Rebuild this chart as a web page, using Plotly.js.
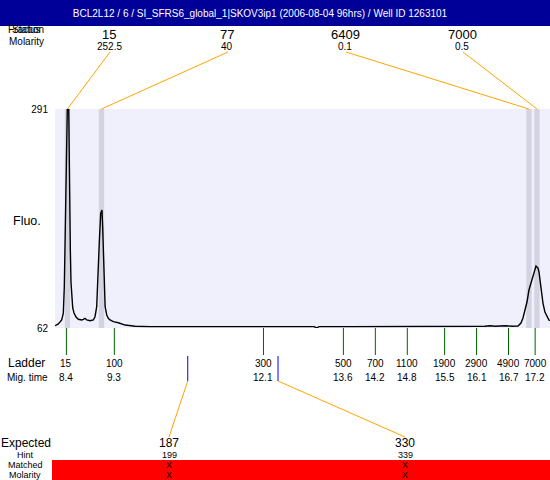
<!DOCTYPE html>
<html>
<head>
<meta charset="utf-8">
<script src="https://cdn.plot.ly/plotly-3.0.1.min.js"></script>
<style>html,body{margin:0;padding:0;background:#fff;}#chart{width:550px;height:480px;}</style>
</head>
<body>
<div id="chart"></div>
<script>
// ---------------- data ----------------
const chartTitle = 'BCL2L12 / 6 / SI_SFRS6_global_1|SKOV3ip1 (2006-08-04 96hrs) / Well ID 1263101';

// electropherogram signal: migration time (s) and fluorescence
const sigTime = [8.187, 8.249, 8.312, 8.342, 8.361, 8.374, 8.387, 8.399, 8.417, 8.444, 8.449, 8.463, 8.474, 8.487, 8.500, 8.519, 8.543, 8.581, 8.624, 8.688, 8.718, 8.750, 8.782, 8.844, 8.906, 8.937, 8.969, 8.998, 9.017, 9.044, 9.068, 9.081, 9.093, 9.111, 9.127, 9.157, 9.187, 9.219, 9.281, 9.375, 9.501, 9.688, 9.970, 10.910, 11.849, 12.785, 13.049, 13.099, 13.142, 13.724, 14.663, 15.601, 16.108, 16.200, 16.258, 16.352, 16.446, 16.540, 16.653, 16.765, 16.878, 16.934, 16.972, 17.009, 17.047, 17.084, 17.122, 17.159, 17.197, 17.216, 17.234, 17.253, 17.272, 17.309, 17.347, 17.384, 17.422, 17.459, 17.478];
const sigFluo = [64.4, 66.2, 70.4, 77.4, 105.2, 150.9, 195.8, 248.1, 291, 291, 248.1, 195.8, 143.6, 109.1, 91.3, 82.9, 77.7, 73.5, 71.1, 70.4, 71.1, 72.1, 70.4, 69.6, 70.4, 73.8, 84.3, 115.6, 150.6, 181.9, 185.4, 167.9, 140.4, 105.2, 84.3, 75.6, 72.1, 70.4, 68.6, 67.5, 65.1, 63.8, 63.4, 63.4, 63.4, 63.4, 63.4, 62.0, 63.4, 63.4, 63.4, 63.4, 63.4, 64.1, 63.8, 64.4, 63.8, 64.1, 64.4, 63.8, 64.1, 67.2, 72.5, 80.8, 89.2, 101.7, 109.1, 115.3, 122.7, 126.8, 125.8, 124.7, 120.6, 104.9, 88.1, 78.7, 73.5, 70.4, 69.5];

// detected peaks
const peakSizes = ['15', '77', '6409', '7000'];
const peakMolarity = ['252.5', '40', '0.1', '0.5'];
const peakTimes = [8.420, 9.059, 17.084, 17.234];

// ladder
const ladderSizes = ['15', '100', '300', '500', '700', '1100', '1900', '2900', '4900', '7000'];
const ladderTimes = [8.4, 9.3, 12.1, 13.6, 14.2, 14.8, 15.5, 16.1, 16.7, 17.2];

// expected products
const expectedSizes = ['187', '330'];
const hintSizes = ['199', '339'];
const expectedTimes = [10.678, 12.373];
const matchedMarks = ['X', 'X'];
const molarityMarks = ['X', 'X'];

const yTicks = [62, 291];

// ---------------- layout helpers ----------------
const FONT = 'Liberation Sans, Arial, sans-serif';
const L = 55, R = 550, T = 109, B = 328;
const xRange = [8.186, 17.479];
const px = p => (p - L) / (R - L);            // pixel x -> paper x
const py = p => (B - p) / (B - T);            // pixel y -> paper y
const pt = p => xRange[0] + (p - L) / (R - L) * (xRange[1] - xRange[0]); // pixel x -> data x

const peakLabelPx = [109, 227, 345, 462];
const expLabelPx = [169, 405];

const annotations = [];
const shapes = [];
function txt(text, x, y, size, extra) {
  annotations.push(Object.assign({
    text: text, x: x, y: y, xref: 'paper', yref: 'paper',
    xanchor: 'center', yanchor: 'middle', showarrow: false, borderpad: 0,
    font: {family: FONT, size: size, color: '#000'}
  }, extra || {}));
}
function line(x0, y0, x1, y1, color, xref, w) {
  shapes.push({type: 'line', xref: xref, yref: 'paper', x0: x0, y0: y0, x1: x1, y1: y1,
    line: {color: color, width: w || 1}, layer: 'above'});
}

// title bar & red match band
shapes.push({type: 'rect', xref: 'paper', yref: 'paper', x0: px(0), x1: 1, y0: py(26), y1: py(0),
  fillcolor: '#000099', line: {width: 0}, layer: 'below'});
shapes.push({type: 'rect', xref: 'paper', yref: 'paper', x0: px(52), x1: 1, y0: py(480), y1: py(460),
  fillcolor: '#ff0000', line: {width: 0}, layer: 'below'});

// peak bands + connectors + labels
txt('Status', px(26), py(30), 10);
txt('Fraction', px(26), py(30), 10);
txt('Molarity', px(26), py(41), 10);
peakTimes.forEach((t, i) => {
  shapes.push({type: 'rect', xref: 'x', yref: 'paper', x0: t - 0.05, x1: t + 0.05, y0: 0, y1: 1,
    fillcolor: '#d3d3e1', line: {width: 0}, layer: 'below'});
  line(t, 1, pt(peakLabelPx[i] + 1), py(52), '#ffa500', 'x');
  txt(peakSizes[i], px(peakLabelPx[i]), py(35), 13);
  txt(peakMolarity[i], px(peakLabelPx[i]), py(47), 10);
});

// y axis title
txt('Fluo.', px(27), py(221), 12.5);

// ladder
txt('Ladder', px(26), py(363), 12);
txt('Mig. time', px(27), py(377), 10);
ladderTimes.forEach((t, i) => {
  line(t, 0, t, py(355), '#006400', 'x');
  annotations.push({text: ladderSizes[i], x: t, y: py(363), xref: 'x', yref: 'paper', borderpad: 0,
    xanchor: 'center', yanchor: 'middle', showarrow: false, font: {family: FONT, size: 10, color: '#000'}});
  annotations.push({text: ladderTimes[i].toFixed(1), x: t, y: py(377), xref: 'x', yref: 'paper', borderpad: 0,
    xanchor: 'center', yanchor: 'middle', showarrow: false, font: {family: FONT, size: 10, color: '#000'}});
});

// expected products
txt('Expected', px(26), py(442.5), 12);
txt('Hint', px(25), py(454.5), 9);
txt('Matched', px(25), py(464.5), 9);
txt('Molarity', px(25), py(474.5), 9);
expectedTimes.forEach((t, i) => {
  line(t, py(356), t, py(381), '#0000ff', 'x');
  line(t, py(381), pt(expLabelPx[i]), py(437), '#ffa500', 'x');
  txt(expectedSizes[i], px(expLabelPx[i]), py(442.5), 12);
  txt(hintSizes[i], px(expLabelPx[i]), py(454.5), 9);
  txt(matchedMarks[i], px(expLabelPx[i]), py(464.5), 9);
  txt(molarityMarks[i], px(expLabelPx[i]), py(474.5), 9);
});

const trace = {
  x: sigTime, y: sigFluo, type: 'scatter', mode: 'lines',
  line: {color: '#000', width: 1.4}, hoverinfo: 'skip', showlegend: false
};

const layout = {
  width: 550, height: 480,
  margin: {l: L, r: 550 - R, t: T, b: 480 - B, pad: 0},
  paper_bgcolor: '#ffffff', plot_bgcolor: '#f0f0fc',
  showlegend: false,
  title: {text: chartTitle, font: {family: FONT, size: 10, color: '#ffffff'},
    x: 260 / 550, xref: 'container', xanchor: 'center', y: 1 - 13 / 480, yref: 'container', yanchor: 'middle'},
  xaxis: {range: xRange, showgrid: false, zeroline: false, showline: false, showticklabels: false, ticks: '', fixedrange: true},
  yaxis: {range: [62, 291], tickvals: yTicks, ticktext: yTicks.map(String), showgrid: false, zeroline: false,
    showline: false, ticks: '', ticklabelstandoff: 6, tickfont: {family: FONT, size: 10, color: '#000'}, fixedrange: true},
  shapes: shapes,
  annotations: annotations
};

Plotly.newPlot('chart', [trace], layout, {displayModeBar: false, staticPlot: true});
</script>
</body>
</html>
